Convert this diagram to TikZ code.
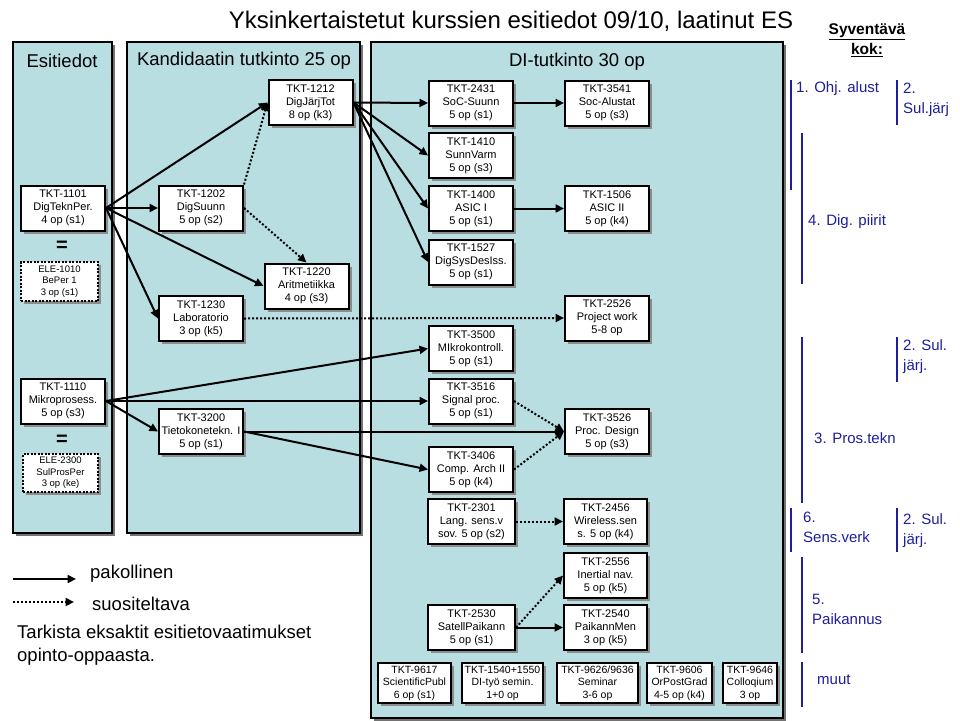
\documentclass[tikz,border=0pt]{standalone}
\usepackage{fontspec}
\setmainfont{Liberation Sans}
\usetikzlibrary{arrows.meta,shadows}
\definecolor{panel}{RGB}{184,222,226}
\definecolor{syv}{RGB}{30,30,160}
\tikzset{
  panelbox/.style={draw=black, line width=2pt, fill=panel,
    drop shadow={shadow xshift=3pt, shadow yshift=-3pt, fill=black!55, opacity=1}},
  course/.style={draw=black, line width=2pt, fill=white, minimum width=84pt,
    minimum height=45pt, inner sep=1pt, align=center,
    font=\fontsize{11}{13}\selectfont,
    drop shadow={shadow xshift=3pt, shadow yshift=-3pt, fill=black!45, opacity=1}},
  altcourse/.style={course, dash pattern=on 2pt off 1.5pt, minimum width=77pt,
    minimum height=39pt, font=\fontsize{9.5}{11.5}\selectfont},
  smallcourse/.style={course, minimum height=40pt, font=\fontsize{10.5}{12.5}\selectfont},
  req/.style={line width=2pt, -{Triangle[length=8.5pt,width=8pt]}},
  rec/.style={req, dash pattern=on 2pt off 2pt},
  ptitle/.style={font=\fontsize{18.5}{21}\selectfont},
  syvtext/.style={text=syv, font=\fontsize{15}{20}\selectfont, align=left, anchor=west, inner sep=0pt},
  syvbar/.style={draw=syv, line width=2pt},
  legtext/.style={font=\fontsize{18.5}{22.5}\selectfont, anchor=west, inner sep=0pt, align=left},
}
\begin{document}
\begin{tikzpicture}[x=1pt,y=-1pt]
\useasboundingbox (0,0) rectangle (960,720);
\fill[white] (0,0) rectangle (960,720);
% panels
\draw[panelbox] (13,42) rectangle (112,533);
\draw[panelbox] (127,42) rectangle (360,533);
\draw[panelbox] (371,42) rectangle (783,718);
\node[ptitle] (tEsi) at (62,61) {Esitiedot};
\node[ptitle] (tKand) at (244,61) {Kandidaatin tutkinto 25 op};
\node[ptitle] (tDI) at (577,62) {DI-tutkinto 30 op};
% title
\node[font=\fontsize{24}{27}\selectfont] (title) at (511,21) {Yksinkertaistetut kurssien esitiedot 09/10, laatinut ES};
\node[font=\bfseries\fontsize{15.5}{20}\selectfont, align=center] (syvtitle) at (867,40) {\underline{Syventävä}\\\underline{kok:}};
% prerequisite courses
\node[course] (n1101) at (63,208) {TKT-1101\\DigTeknPer.\\4 op (s1)};
\node[font=\bfseries\fontsize{20}{20}\selectfont] (eq1) at (62,246) {=};
\node[altcourse] (e1010) at (59.5,281.5) {ELE-1010\\BePer 1\\3 op (s1)};
\node[course] (n1110) at (63,401) {TKT-1110\\Mikroprosess.\\5 op (s3)};
\node[font=\bfseries\fontsize{20}{20}\selectfont] (eq2) at (62,440) {=};
\node[altcourse, minimum width=75pt, minimum height=38pt] (e2300) at (60.5,473) {ELE-2300\\SulProsPer\\3 op (ke)};
% bachelor courses
\node[course] (n1202) at (201,208) {TKT-1202\\DigSuunn\\5 op (s2)};
\node[course] (n1212) at (310.5,102.5) {TKT-1212\\DigJärjTot\\8 op (k3)};
\node[course] (n1220) at (306.5,286) {TKT-1220\\Aritmetiikka\\4 op (s3)};
\node[course] (n1230) at (201,318.5) {TKT-1230\\Laboratorio\\3 op (k5)};
\node[course] (n3200) at (201,431.5) {TKT-3200\\Tietokonetekn. I\\5 op (s1)};
% DI courses
\node[course] (n2431) at (471,103) {TKT-2431\\SoC-Suunn\\5 op (s1)};
\node[course] (n3541) at (607,103) {TKT-3541\\Soc-Alustat\\5 op (s3)};
\node[course] (n1410) at (471,155.5) {TKT-1410\\SunnVarm\\5 op (s3)};
\node[course] (n1400) at (471,208.5) {TKT-1400\\ASIC I\\5 op (s1)};
\node[course] (n1506) at (607,208.5) {TKT-1506\\ASIC II\\5 op (k4)};
\node[course] (n1527) at (471,262) {TKT-1527\\DigSysDesIss.\\5 op (s1)};
\node[course] (n2526) at (607,318) {TKT-2526\\Project work\\5-8 op};
\node[course] (n3500) at (471,348.5) {TKT-3500\\MIkrokontroll.\\5 op (s1)};
\node[course] (n3516) at (471,401) {TKT-3516\\Signal proc.\\5 op (s1)};
\node[course] (n3526) at (607,431.5) {TKT-3526\\Proc. Design\\5 op (s3)};
\node[course] (n3406) at (471,469.5) {TKT-3406\\Comp. Arch  II\\5 op (k4)};
\node[course, minimum width=87pt] (n2301) at (471.5,521.5) {TKT-2301\\Lang. sens.v\\sov. 5 op (s2)};
\node[course, minimum width=83pt] (n2456) at (605.5,521.5) {TKT-2456\\Wireless.sen\\s. 5 op (k4)};
\node[course, minimum width=83pt] (n2556) at (605.5,575.5) {TKT-2556\\Inertial nav.\\5 op (k5)};
\node[course, minimum width=87pt] (n2530) at (471.5,627.5) {TKT-2530\\SatellPaikann\\5 op (s1)};
\node[course, minimum width=83pt] (n2540) at (605.5,627.5) {TKT-2540\\PaikannMen\\3 op (k5)};
\node[smallcourse, minimum width=73pt] (n9617) at (414.5,683) {TKT-9617\\ScientificPubl\\6 op (s1)};
\node[smallcourse, minimum width=81pt] (n1540) at (502.5,683) {TKT-1540+1550\\DI-työ semin.\\1+0 op};
\node[smallcourse, minimum width=81pt] (n9626) at (597.5,683) {TKT-9626/9636\\Seminar\\3-6 op};
\node[smallcourse, minimum width=65pt] (n9606) at (679.5,683) {TKT-9606\\OrPostGrad\\4-5 op (k4)};
\node[smallcourse, minimum width=54pt] (n9646) at (750,683) {TKT-9646\\Colloqium\\3 op};
% required connectors
\draw[req] (n1101.east) -- (n1212.west);
\draw[req] (n1101.east) -- (n1202.west);
\draw[req] (n1101.east) -- (n1220.west);
\draw[req] (n1101.east) -- (n1230.west);
\draw[req] (n1212.east) -- (n2431.west);
\draw[req] (n1212.east) -- (n1410.west);
\draw[req] (n1212.east) -- (n1400.west);
\draw[req] (n1212.east) -- (n1527.west);
\draw[req] (n2431.east) -- (n3541.west);
\draw[req] (n1400.east) -- (n1506.west);
\draw[req] (n1110.east) -- (n3500.west);
\draw[req] (n1110.east) -- (n3516.west);
\draw[req] (n1110.east) -- (n3200.west);
\draw[req] (n3200.east) -- (n3526.west);
\draw[req] (n3200.east) -- (n3406.west);
\draw[req] (n2530.east) -- (n2540.west);
% recommended connectors
\draw[rec] (n1202.north east) -- (n1212.west);
\draw[rec] (n1202.east) -- (n1220.north);
\draw[rec] (n1230.east) -- (n2526.west);
\draw[rec] (n3516.east) -- (n3526.west);
\draw[rec] (n3406.east) -- (n3526.west);
\draw[rec] (n2301.east) -- (n2456.west);
\draw[rec] (n2530.east) -- (n2556.west);
% specialisation column
\draw[syvbar] (791,80) -- (791,190);
\node[syvtext] (s1) at (796,89) {1. Ohj. alust};
\draw[syvbar] (897,80) -- (897,125);
\node[syvtext] (s2a) at (903,100) {2.\\Sul.järj};
\draw[syvbar] (802,133) -- (802,284);
\node[syvtext] (s4) at (808,222) {4. Dig. piirit};
\draw[syvbar] (802,337) -- (802,503);
\node[syvtext] (s3) at (814,438) {3. Pros.tekn};
\draw[syvbar] (897,337) -- (897,382);
\node[syvtext] (s2b) at (903,357) {2. Sul.\\järj.};
\draw[syvbar] (791,508) -- (791,552);
\node[syvtext] (s6) at (803,527) {6.\\Sens.verk};
\draw[syvbar] (897,508) -- (897,552);
\node[syvtext] (s2c) at (903,531) {2. Sul.\\järj.};
\draw[syvbar] (802,557) -- (802,653);
\node[syvtext] (s5) at (812,609) {5.\\Paikannus};
\draw[syvbar] (802,662) -- (802,707);
\node[syvtext] (smuut) at (817,680) {muut};
% legend
\coordinate (l1a) at (13,579);
\coordinate (l1b) at (76,579);
\coordinate (l2a) at (13,602);
\coordinate (l2b) at (74,602);
\draw[req] (l1a) -- (l1b);
\draw[rec] (l2a) -- (l2b);
\node[legtext] (lp) at (90,574) {pakollinen};
\node[legtext] (ls) at (92,604) {suositeltava};
\node[legtext] (lnote) at (17,645) {Tarkista eksaktit esitietovaatimukset\\opinto-oppaasta.};
\end{tikzpicture}
\end{document}
